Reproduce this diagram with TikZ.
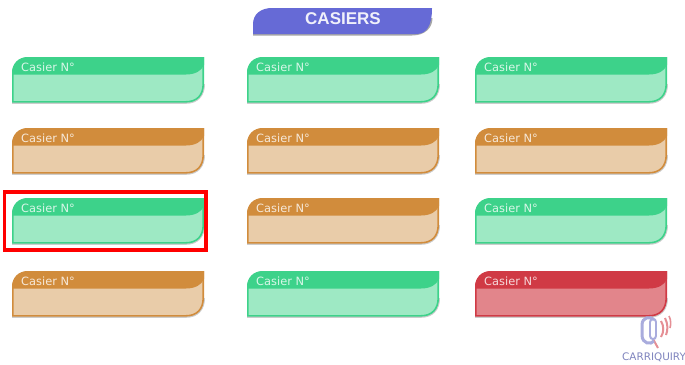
\documentclass[tikz,border=0pt]{standalone}
\usepackage{fontspec}
\setmainfont{DejaVu Sans}
\newfontfamily\headfont{Liberation Sans}
\usetikzlibrary{calc}
\definecolor{gdark}{HTML}{3DD28A}
\definecolor{glight}{HTML}{9EE9C4}
\definecolor{odark}{HTML}{D18C3C}
\definecolor{olight}{HTML}{E9CCA9}
\definecolor{rdark}{HTML}{D03A45}
\definecolor{rlight}{HTML}{E2858B}
\definecolor{bluehead}{HTML}{666AD6}
\definecolor{logoblue}{HTML}{A9ACDD}
\definecolor{logored}{HTML}{E58F95}
\definecolor{logotext}{HTML}{7F84BE}
\tikzset{
  cardlabel/.style={anchor=west,text=white,font=\fontsize{11.4}{13}\selectfont,inner sep=0pt,opacity=.8},
  shade1/.style={fill=black,opacity=.2},
}
\newcommand{\casier}[5]{% name, x, y, dark, light
  \begin{scope}[shift={(#2,#3)}]
    \path[shade1] (0,30) -- (0,46.8) -- (174,46.8) .. controls (186,46.8) and (193,39) .. (193,27) -- cycle;
    \fill[#5,draw=#4,line width=1.6pt] (0.8,16) -- (0.8,44.8) -- (174,44.8) .. controls (185,44.8) and (191.2,38) .. (191.2,27) -- (191.2,1) -- (16,1) .. controls (7,1) and (0.8,8) .. (0.8,16) -- cycle;
    \fill[#4] (0,17.5) -- (174,17.5) .. controls (183,17.5) and (189.5,14) .. (192,8) -- (192,0) -- (16,0) .. controls (6,0) and (0,7) .. (0,16) -- cycle;
    \node[cardlabel] (#1) at (9,10.5) {Casier N°};
  \end{scope}
}
\begin{document}
\begin{tikzpicture}[x=1pt,y=-1pt]
\useasboundingbox (0,0) rectangle (685,364);
\fill[white] (0,0) rectangle (685,364);
% title
\path[fill=black,opacity=.35] (253,35.5) -- (412,35.5) .. controls (425,35.5) and (432.5,28) .. (432.5,18) -- (253,28) -- cycle;
\fill[bluehead] (253,34) -- (416,34) .. controls (426,34) and (432,27) .. (432,8) -- (272,8) .. controls (261,8) and (253,14) .. (253,24) -- cycle;
\node[text=white,font=\headfont\bfseries\fontsize{17}{20}\selectfont,inner sep=0pt,opacity=.9] (title) at (343,19) {CASIERS};
% cards
\casier{c11}{12}{57}{gdark}{glight}
\casier{c12}{247}{57}{gdark}{glight}
\casier{c13}{475}{57}{gdark}{glight}
\casier{c21}{12}{128}{odark}{olight}
\casier{c22}{247}{128}{odark}{olight}
\casier{c23}{475}{128}{odark}{olight}
\casier{c31}{12}{198}{gdark}{glight}
\casier{c32}{247}{198}{odark}{olight}
\casier{c33}{475}{198}{gdark}{glight}
\casier{c41}{12}{271}{odark}{olight}
\casier{c42}{247}{271}{gdark}{glight}
\casier{c43}{475}{271}{rdark}{rlight}
% highlight
\draw[red,line width=3.4pt] (4.5,192) rectangle (206,250);
% logo
\draw[logored,line width=2pt] (653,339) -- (658,348);
\draw[logoblue,line width=3pt] (654,319.5) .. controls (650,316) and (642,317) .. (642,325) -- (642,335) .. controls (642,344) and (651,345) .. (654,341);
\draw[logoblue,line width=2.4pt] (650,322) -- (650,336) (656,322) -- (656,336);
\draw[logoblue,line width=2pt] (650,322) .. controls (650,318) and (656,318) .. (656,322);
\draw[logoblue,line width=2pt] (650,336) .. controls (650,340) and (656,340) .. (656,336);
\draw[logored,line width=2pt] (661,321) .. controls (664,326) and (664,332) .. (661,337);
\draw[logored,line width=2pt] (665,318) .. controls (668,324) and (668,330) .. (666,335);
\draw[logored,line width=1.6pt] (669,316) .. controls (671,320) and (671,324) .. (670,328);
\node[anchor=west,text=logotext,font=\fontsize{10.4}{12}\selectfont,inner sep=0pt] (logo) at (622,357) {CARRIQUIRY};
\end{tikzpicture}
\end{document}
